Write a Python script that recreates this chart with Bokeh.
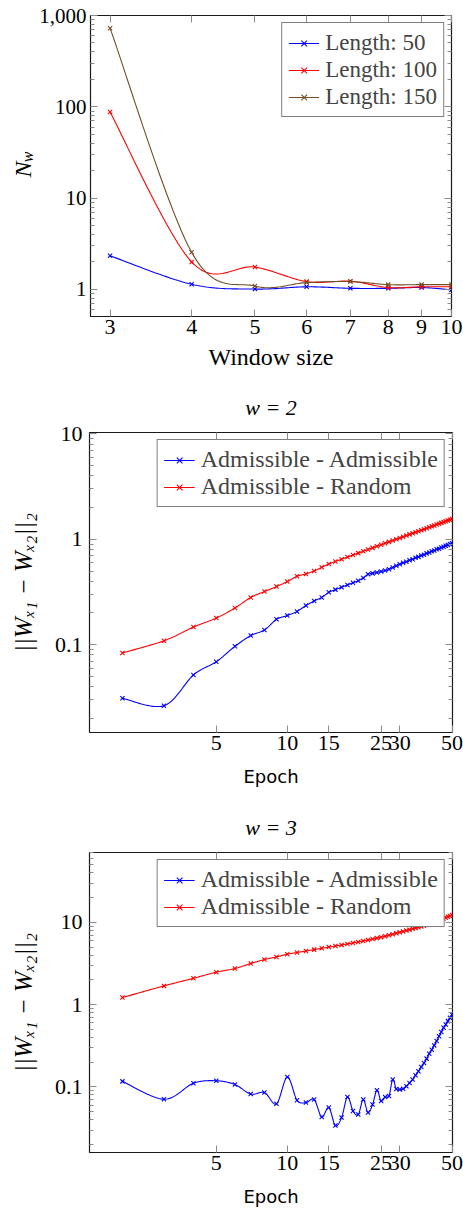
import numpy as np
from bokeh.plotting import figure
from bokeh.models import (FixedTicker, LogAxis, CustomJSTickFormatter, Legend,
                          LegendItem, Range1d)
from bokeh.core.properties import value
from bokeh.layouts import column, row
from bokeh.embed import file_html
from bokeh.resources import INLINE

# ---------------- data ----------------
window_sizes = [3, 4, 5, 6, 7, 8, 9, 10]
nw_len50 = [2.34, 1.14, 1.01, 1.07, 1.03, 1.03, 1.05, 0.99]
nw_len100 = [87.6, 2.0, 1.76, 1.22, 1.23, 1.05, 1.07, 1.07]
nw_len150 = [727, 2.55, 1.09, 1.19, 1.22, 1.13, 1.13, 1.13]

epochs = list(range(2, 51))
w2_adm_adm = [0.031, 0.0264, 0.0516, 0.069, 0.0966, 0.122, 0.138, 0.174, 0.189, 0.207,
              0.235, 0.260, 0.281, 0.314, 0.333, 0.351, 0.369, 0.387, 0.405, 0.43,
              0.465, 0.475, 0.485, 0.495, 0.505, 0.52, 0.54, 0.56, 0.58, 0.598,
              0.612, 0.634, 0.648, 0.668, 0.681, 0.702, 0.715, 0.735, 0.748, 0.769,
              0.782, 0.803, 0.815, 0.835, 0.848, 0.869, 0.881, 0.902, 0.916]
w2_adm_rand = [0.0835, 0.109, 0.147, 0.179, 0.223, 0.281, 0.319, 0.356, 0.397, 0.446,
               0.469, 0.501, 0.542, 0.584, 0.616, 0.647, 0.678, 0.709, 0.739, 0.769,
               0.799, 0.829, 0.858, 0.887, 0.916, 0.945, 0.974, 1.002, 1.03, 1.058,
               1.085, 1.113, 1.14, 1.167, 1.194, 1.221, 1.247, 1.274, 1.30, 1.327,
               1.353, 1.379, 1.405, 1.431, 1.456, 1.482, 1.507, 1.533, 1.558]
w3_adm_adm = [0.117, 0.071, 0.111, 0.119, 0.107, 0.082, 0.0855, 0.0625, 0.132, 0.069,
              0.0646, 0.0703, 0.0433, 0.0562, 0.034, 0.0426, 0.0757, 0.0512, 0.0463, 0.0703,
              0.049, 0.0612, 0.0912, 0.0676, 0.0757, 0.0778, 0.123, 0.0946, 0.093, 0.095,
              0.102, 0.112, 0.123, 0.139, 0.155, 0.175, 0.195, 0.221, 0.254, 0.284,
              0.32, 0.361, 0.412, 0.464, 0.525, 0.575, 0.631, 0.693, 0.76]
w3_adm_rand = [1.22, 1.69, 2.09, 2.48, 2.75, 3.16, 3.53, 3.8, 4.1, 4.3,
               4.48, 4.66, 4.84, 5.0, 5.16, 5.32, 5.47, 5.62, 5.78, 5.94,
               6.1, 6.27, 6.43, 6.6, 6.78, 6.97, 7.16, 7.36, 7.57, 7.76,
               7.95, 8.15, 8.35, 8.55, 8.74, 8.92, 9.1, 9.33, 9.56, 9.8,
               10.05, 10.3, 10.56, 10.83, 11.1, 11.38, 11.67, 11.97, 12.3]

top_xticks = [3, 4, 5, 6, 7, 8, 9, 10]
top_yticks = [1, 10, 100, 1000]
epoch_xticks = [5, 10, 15, 25, 30, 50]
dist_yticks = [0.1, 1, 10]

# ---------------- style ----------------
SERIF = "Liberation Serif"
SANS = "DejaVu Sans"
BLUE, RED, BROWN = "#0000ff", "#ff0000", "#734d26"
TICK_COLOR = "#8c8c8c"
W = 463


def smooth(xs, ys, k=0.165, n=24):
    P = np.column_stack([np.log10(np.asarray(xs, float)), np.log10(np.asarray(ys, float))])
    m = len(P)
    out = [P[0]]
    t = np.linspace(0, 1, n + 1)[1:, None]
    for i in range(m - 1):
        p0 = P[max(i - 1, 0)]
        p1 = P[i]
        p2 = P[i + 1]
        p3 = P[min(i + 2, m - 1)]
        c1 = p1 + k * (p2 - p0)
        c2 = p2 - k * (p3 - p1)
        seg = (1 - t) ** 3 * p1 + 3 * (1 - t) ** 2 * t * c1 + 3 * (1 - t) * t ** 2 * c2 + t ** 3 * p2
        out.extend(seg)
    out = np.array(out)
    return 10 ** out[:, 0], 10 ** out[:, 1]


def minor_log(lo, hi):
    vals = []
    for e in range(-3, 4):
        for m in range(2, 10):
            v = round(m * 10.0 ** e, 6)
            if lo < v < hi:
                vals.append(v)
    return vals


fmt_code = "return tick.toLocaleString('en-US');"


def style_axis(ax):
    ax.axis_line_color = None
    ax.major_tick_in = 7
    ax.major_tick_out = 0
    ax.minor_tick_in = 4
    ax.minor_tick_out = 0
    ax.major_tick_line_color = TICK_COLOR
    ax.minor_tick_line_color = TICK_COLOR
    ax.major_tick_line_width = 1
    ax.minor_tick_line_width = 1
    ax.major_label_text_font = SERIF
    ax.major_label_text_font_size = "22px"
    ax.major_label_text_color = "black"


def make_fig(width, height, top, bottom, left, right, xr, yr, xticks, yticks, ysize, ystandoff):
    p = figure(width=width, height=height, x_axis_type="log", y_axis_type="log",
               x_range=Range1d(*xr), y_range=Range1d(*yr),
               output_backend="svg", toolbar_location=None,
               min_border_left=left, min_border_right=right,
               min_border_top=top, min_border_bottom=bottom)
    p.grid.visible = False
    p.outline_line_color = "#1a1a1a"
    p.outline_line_width = 1.2
    p.background_fill_color = "white"
    p.border_fill_color = "white"
    bottom_ax = p.below[0]
    left_ax = p.left[0]
    top_ax = LogAxis()
    right_ax = LogAxis()
    p.add_layout(right_ax, "right")
    p.add_layout(top_ax, "above")
    xt = FixedTicker(ticks=xticks, minor_ticks=[])
    yt = FixedTicker(ticks=yticks, minor_ticks=minor_log(*yr))
    for ax in (bottom_ax, top_ax):
        ax.ticker = xt
    for ax in (left_ax, right_ax):
        ax.ticker = yt
    for ax in (bottom_ax, top_ax, left_ax, right_ax):
        style_axis(ax)
    for ax in (bottom_ax, left_ax):
        ax.formatter = CustomJSTickFormatter(code=fmt_code)
    bottom_ax.major_label_standoff = 3
    left_ax.major_label_standoff = ystandoff
    left_ax.major_label_text_font_size = ysize
    for ax in (top_ax, right_ax):
        ax.formatter = CustomJSTickFormatter(code="return '';")
        ax.major_label_standoff = 0
        ax.major_label_text_font_size = "1px"
    return p, bottom_ax, left_ax, top_ax


def strip(width, height):
    s = figure(width=width, height=height, x_range=Range1d(0, width), y_range=Range1d(0, height),
               output_backend="svg", toolbar_location=None, min_border=0,
               x_axis_location=None, y_axis_location=None)
    s.grid.visible = False
    s.outline_line_color = None
    s.background_fill_color = "white"
    s.border_fill_color = "white"
    return s


def strip_text(s, x, y, text, size, style="normal"):
    s.text(x=[x], y=[y], text=[text], angle=np.pi / 2, text_align="center",
           text_baseline="middle", text_font=value(SERIF),
           text_font_size=value(f"{size}px"), text_font_style=style, text_color="black")


def add_series(p, xs, ys, color):
    sx, sy = smooth(xs, ys)
    r1 = p.line(sx, sy, line_color=color, line_width=1.1)
    r2 = p.scatter(xs, ys, marker="x", size=6, line_color=color, line_width=1.1)
    return [r1, r2]


def add_legend(p, items, size):
    lg = Legend(items=[LegendItem(label=l, renderers=r) for l, r in items],
                location="top_right", margin=7, padding=6, spacing=0,
                label_text_font=SERIF, label_text_font_size=f"{size}px",
                label_height=27, glyph_width=31, glyph_height=20, label_standoff=6,
                border_line_color="black", border_line_width=1,
                background_fill_color="white", background_fill_alpha=1.0)
    p.add_layout(lg)


def set_label(ax, text, font, size, standoff, style="normal"):
    ax.axis_label = text
    ax.axis_label_text_font = font
    ax.axis_label_text_font_size = f"{size}px"
    ax.axis_label_text_font_style = style
    ax.axis_label_text_color = "black"
    ax.axis_label_standoff = standoff


# ---------------- panel 1 ----------------
H1 = 385
SW = 36
s1 = strip(SW, H1)
strip_text(s1, 22.0, H1 - 197, "N", 24, style="italic")
strip_text(s1, 26.5, H1 - 181, "w", 16, style="italic")
p1, b1, l1, t1 = make_fig(W - SW, H1, 15, H1 - 316, 88 - SW, 12, (2.8, 10), (0.506, 1000),
                          top_xticks, top_yticks, "21px", 4)
r50 = add_series(p1, window_sizes, nw_len50, BLUE)
r100 = add_series(p1, window_sizes, nw_len100, RED)
r150 = add_series(p1, window_sizes, nw_len150, BROWN)
add_legend(p1, [("Length: 50", r50), ("Length: 100", r100), ("Length: 150", r150)], 23)
set_label(b1, "Window size", SERIF, 24, 7)


# ---------------- panels 2, 3 ----------------
def epoch_panel(height, top, bottom, yr, aa, ar, title):
    p, b, l, t = make_fig(W, height, top, bottom, 89, 11, (1.45, 50.2), yr,
                          epoch_xticks, dist_yticks, "22px", 7)
    ra = add_series(p, epochs, aa, BLUE)
    rr = add_series(p, epochs, ar, RED)
    add_legend(p, [("Admissible - Admissible", ra), ("Admissible - Random", rr)], 24)
    set_label(b, "Epoch", SANS, 18, 13)
    set_label(l, "||Wₓ₁ − Wₓ₂||₂", SERIF, 25, 15, style="italic")
    set_label(t, title, SERIF, 22, 13, style="italic")
    return p


p2 = epoch_panel(405, 47, 58, (0.0147, 10.3), w2_adm_adm, w2_adm_rand, "w = 2")
p3 = epoch_panel(420, 62, 58, (0.016, 70.5), w3_adm_adm, w3_adm_rand, "w = 3")

layout = column(row(s1, p1, spacing=0), p2, p3, spacing=0)
open("out.html", "w").write(file_html(layout, INLINE))
